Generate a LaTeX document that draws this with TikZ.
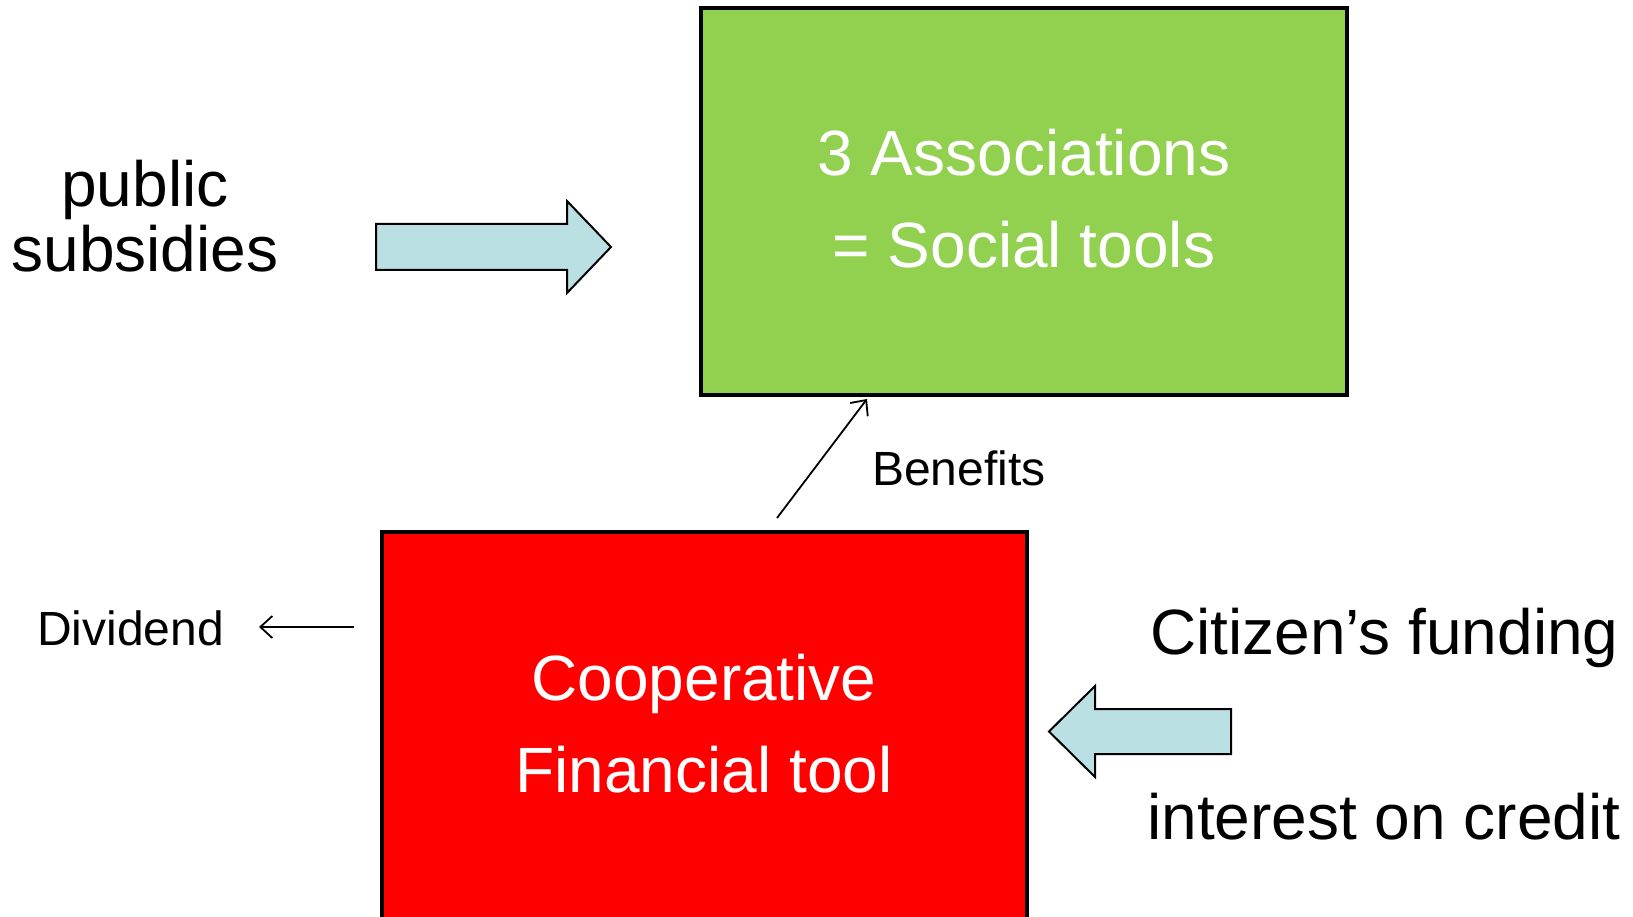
\documentclass[tikz,border=0pt]{standalone}
\usepackage{fontspec}
\setmainfont{Liberation Sans}
\usetikzlibrary{arrows.meta}
\definecolor{boxgreen}{HTML}{92D050}
\definecolor{boxred}{HTML}{FF0000}
\definecolor{arrowblue}{HTML}{BBE0E3}
\tikzset{
  bigtxt/.style={font=\fontsize{64}{70}\selectfont, anchor=base, inner sep=0pt},
  smalltxt/.style={font=\fontsize{48}{52}\selectfont, anchor=base, inner sep=0pt},
  boxstyle/.style={draw=black, line width=4.2pt, inner sep=0pt},
  blockarrow/.style={draw=black, line width=2pt, fill=arrowblue},
  thinarrow/.style={draw=black, line width=1.8pt, -{Straight Barb[length=12pt,width=22pt,line width=1.8pt]}}
}
\begin{document}
\begin{tikzpicture}[x=1pt,y=-1pt]
\useasboundingbox (0,0) rectangle (1633,917);
\clip (0,0) rectangle (1633,917);
% boxes
\node[boxstyle, fill=boxgreen, minimum width=646pt, minimum height=387pt] (assoc) at (1024,201.5) {};
\node[boxstyle, fill=boxred, minimum width=645pt, minimum height=420pt] (coop) at (704.5,742) {};
% box texts
\node[bigtxt, text=white] (a1) at (1024,176) {3 Associations};
\node[bigtxt, text=white] (a2) at (1024,268) {= Social tools};
\node[bigtxt, text=white] (c1) at (704,700) {Cooperative};
\node[bigtxt, text=white] (c2) at (704,792) {Financial tool};
% outside texts
\node[bigtxt] (p1) at (145,207) {public};
\node[bigtxt] (p2) at (145,272) {subsidies};
\node[bigtxt, anchor=base west] (cf) at (1150,654) {Citizen’s funding};
\node[bigtxt, anchor=base west] (ic) at (1147,839) {interest on credit};
\node[smalltxt, anchor=base west] (ben) at (872,485) {Benefits};
\node[smalltxt, anchor=base west] (div) at (37,645) {Dividend};
% block arrows
\draw[blockarrow] (376,224) -- (567,224) -- (567,201) -- (611,247) -- (567,293) -- (567,270) -- (376,270) -- cycle;
\draw[blockarrow] (1231,709) -- (1095,709) -- (1095,686) -- (1049,731.5) -- (1095,777) -- (1095,754) -- (1231,754) -- cycle;
% thin arrows
\coordinate (bstart) at (777,518);
\coordinate (bend) at (867,399);
\coordinate (dstart) at (354,627);
\coordinate (dend) at (259,627);
\draw[thinarrow] (bstart) -- (bend);
\draw[thinarrow] (dstart) -- (dend);
\end{tikzpicture}
\end{document}
